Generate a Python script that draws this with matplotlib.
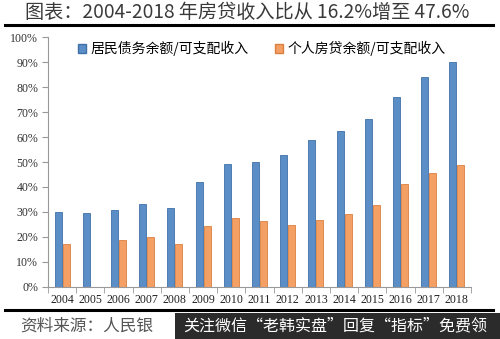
import numpy as np
import matplotlib
matplotlib.use('Agg')
from matplotlib import pyplot as plt
from matplotlib.patches import Patch, Rectangle
from matplotlib.lines import Line2D

plt.rcParams['font.family'] = ['Noto Sans CJK SC', 'DejaVu Sans']

years = ['2004', '2005', '2006', '2007', '2008', '2009', '2010', '2011',
         '2012', '2013', '2014', '2015', '2016', '2017', '2018']
# 居民债务余额/可支配收入 (%)
debt_ratio = [30.0, 29.6, 30.8, 33.3, 31.7, 41.9, 49.2, 49.9,
              52.7, 58.7, 62.5, 67.2, 75.9, 84.1, 90.0]
# 个人房贷余额/可支配收入 (%), no value for 2005
mortgage_ratio = [17.2, np.nan, 18.6, 20.0, 17.0, 24.5, 27.4, 26.5,
                  24.7, 26.7, 29.0, 32.9, 41.2, 45.7, 48.8]
yticks = [0, 10, 20, 30, 40, 50, 60, 70, 80, 90, 100]

series_names = ['居民债务余额/可支配收入', '个人房贷余额/可支配收入']
title = '图表：2004-2018 年房贷收入比从 16.2%增至 47.6%'
source = '资料来源：人民银'
overlay = '关注微信“老韩实盘”回复“指标”免费领'

blue = '#5b8ec6'
orange = '#f4a064'

fig = plt.figure(figsize=(5.0, 3.39), dpi=100)
ax = fig.add_axes([0.096, 0.154, 0.846, 0.736])

x = np.arange(len(years))
w = 0.25
ax.bar(x - 0.14, debt_ratio, width=w, color=blue, edgecolor='#3f70a8', linewidth=0.6)
ax.bar(x + 0.14, mortgage_ratio, width=w, color=orange, edgecolor='#d98040', linewidth=0.6)

ax.set_xlim(-0.5, len(years) - 0.5)
ax.set_ylim(0, 100)
ax.set_yticks(yticks)
ax.set_yticklabels([f'{v}%' for v in yticks], family='Liberation Serif', fontsize=8.6, color='#333333')
ax.set_xticks(x)
ax.set_xticklabels(years, family='Liberation Serif', fontsize=8.6, color='#222222')
ax.set_xticks(np.arange(len(years) + 1) - 0.5, minor=True)
ax.tick_params(axis='x', which='major', length=0, pad=5)
ax.tick_params(axis='x', which='minor', length=4, color='#999999', direction='out')
ax.tick_params(axis='y', length=4, color='#999999', direction='out', pad=3)

for s in ['top', 'right']:
    ax.spines[s].set_visible(False)
for s in ['left', 'bottom']:
    ax.spines[s].set_color('#999999')
    ax.spines[s].set_linewidth(0.8)

handles = [Patch(facecolor=blue, edgecolor='#3f70a8'), Patch(facecolor=orange, edgecolor='#d98040')]
ax.legend(handles, series_names, loc='upper center', bbox_to_anchor=(0.505, 1.035), ncol=2,
          frameon=False, fontsize=10, handlelength=0.6, handleheight=0.6,
          handletextpad=0.3, columnspacing=1.9)

# title and rules
fig.text(0.05, 0.962, title, fontsize=13.8, color='#3a3a3a', va='center', ha='left')
fig.add_artist(Line2D([0.01, 0.985], [0.926, 0.926], color='black', linewidth=2.2))
fig.add_artist(Line2D([0.01, 0.985], [0.086, 0.086], color='black', linewidth=2.2))

fig.text(0.04, 0.038, source, fontsize=12, color='#555555', style='italic', va='center', ha='left')

# watermark banner
fig.add_artist(Rectangle((0.35, 0.0), 0.65, 0.077, transform=fig.transFigure,
                         facecolor='#2b2b2b', edgecolor='none'))
fig.text(0.366, 0.038, overlay, fontsize=11.5, color='white', va='center', ha='left')

fig.savefig('out.png', dpi=100)
